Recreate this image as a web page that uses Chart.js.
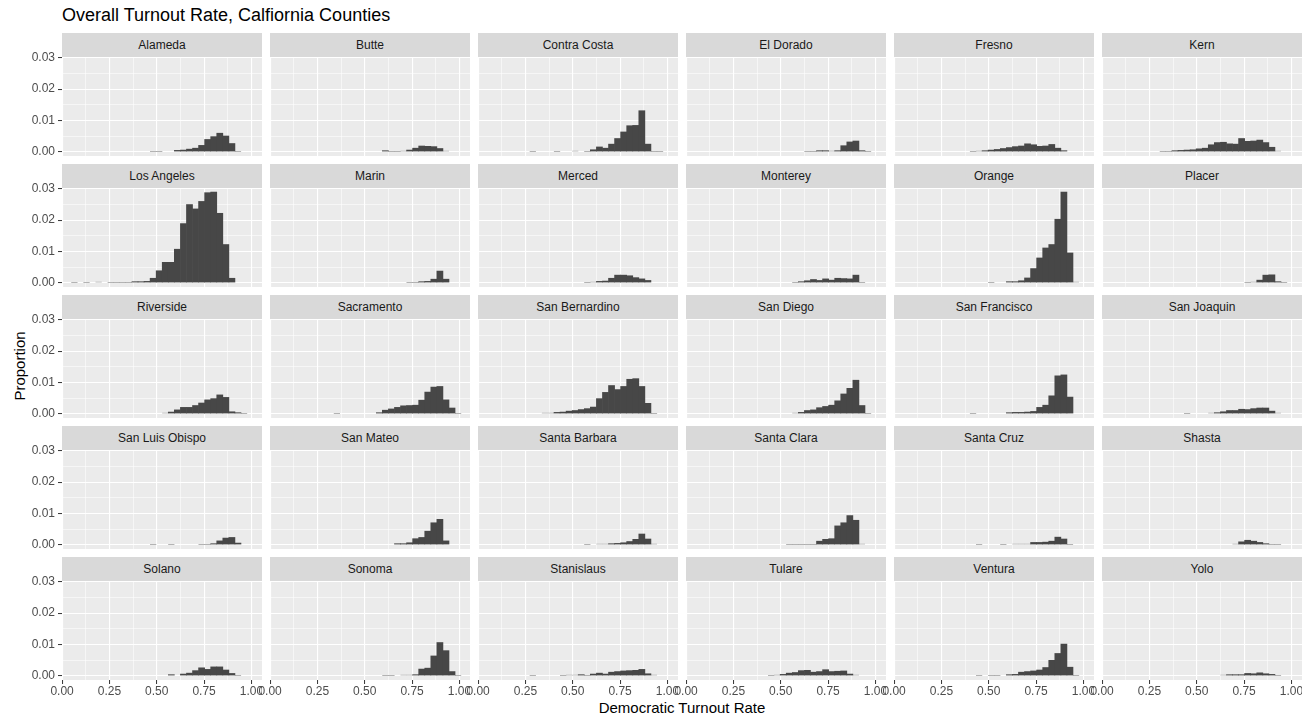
<!DOCTYPE html>
<html>
<head>
<meta charset="utf-8">
<script src="https://cdn.jsdelivr.net/npm/chart.js@4.4.1/dist/chart.umd.min.js"></script>
<style>
  html, body { margin: 0; padding: 0; background: #ffffff; }
  body { width: 1314px; height: 714px; position: relative; overflow: hidden;
         font-family: "Liberation Sans", Arial, Helvetica, sans-serif; }
  .strip { position: absolute; width: 200px; height: 24px; line-height: 24px;
           background: #D9D9D9; color: #1A1A1A; font-size: 12px; text-align: center; white-space: nowrap; }
  canvas { position: absolute; }
  #title { position: absolute; left: 62px; top: 5px; font-size: 18px; line-height: 20px; color: #000; white-space: nowrap; }
  #xtitle { position: absolute; left: 62px; width: 1240px; top: 699px; font-size: 15px; line-height: 17px; text-align: center; color: #000; }
  #ytitle { position: absolute; left: 19px; top: 366px; font-size: 15px; line-height: 17px; color: #000; white-space: nowrap;
            transform: translate(-50%, -50%) rotate(-90deg); }
</style>
</head>
<body>
<div id="title">Overall Turnout Rate, Calfiornia Counties</div>
<div id="ytitle">Proportion</div>
<div id="xtitle">Democratic Turnout Rate</div>
<script>
// Histogram bin centres (bin width 0.032), shared by every county panel
const binCenters = [0.065, 0.097, 0.129, 0.161, 0.193, 0.225, 0.257, 0.289, 0.321, 0.353,
                    0.385, 0.417, 0.449, 0.481, 0.513, 0.545, 0.577, 0.609, 0.641, 0.673,
                    0.705, 0.737, 0.769, 0.801, 0.833, 0.865, 0.897, 0.929, 0.961, 0.993];

const counties = ['Alameda', 'Butte', 'Contra Costa', 'El Dorado', 'Fresno', 'Kern',
                  'Los Angeles', 'Marin', 'Merced', 'Monterey', 'Orange', 'Placer',
                  'Riverside', 'Sacramento', 'San Bernardino', 'San Diego', 'San Francisco', 'San Joaquin',
                  'San Luis Obispo', 'San Mateo', 'Santa Barbara', 'Santa Clara', 'Santa Cruz', 'Shasta',
                  'Solano', 'Sonoma', 'Stanislaus', 'Tulare', 'Ventura', 'Yolo'];

// Proportion of all precincts falling in each bin, one array per county
const alameda       = [0,0,0,0,0,0,0,0,0,0, 0,0,0,0.0001,0.0001,0,0,0.0004,0.0005,0.0008, 0.0011,0.0020,0.0039,0.0048,0.0059,0.0050,0.0026,0.0001,0,0];
const butte         = [0,0,0,0,0,0,0,0,0,0, 0,0,0,0,0,0,0,0.0003,0.0001,0.0001, 0.0002,0.0005,0.0011,0.0018,0.0017,0.0016,0.0010,0.0002,0,0];
const contraCosta   = [0,0,0,0,0,0,0,0.0001,0,0, 0,0.0001,0,0,0.0002,0,0.0001,0.0006,0.0015,0.0011, 0.0024,0.0042,0.0063,0.0083,0.0084,0.0131,0.0024,0.0001,0.0001,0];
const elDorado      = [0,0,0,0,0,0,0,0,0,0, 0,0,0,0,0,0,0,0,0.0001,0.0001, 0.0003,0.0003,0.0002,0.0003,0.0019,0.0031,0.0034,0.0003,0.0001,0];
const fresno        = [0,0,0,0,0,0,0,0,0,0, 0,0.0001,0.0002,0.0003,0.0005,0.0007,0.0010,0.0013,0.0016,0.0018, 0.0025,0.0022,0.0017,0.0018,0.0023,0.0011,0.0003,0,0,0];
const kern          = [0,0,0,0,0,0,0,0,0.0001,0.0001, 0.0003,0.0004,0.0005,0.0006,0.0009,0.0011,0.0022,0.0029,0.0030,0.0025, 0.0024,0.0042,0.0033,0.0034,0.0037,0.0029,0.0014,0.0002,0,0];
const losAngeles    = [0.0001,0,0.0001,0,0.0002,0,0.0001,0.0001,0.0001,0.0001, 0.0003,0.0003,0.0004,0.0014,0.0038,0.0065,0.0065,0.0107,0.0189,0.0250, 0.0236,0.0260,0.0288,0.0290,0.0222,0.0122,0.0014,0,0,0];
const marin         = [0,0,0,0,0,0,0,0,0,0, 0,0,0,0,0,0,0,0,0,0, 0,0.0001,0.0001,0.0003,0.0004,0.0011,0.0037,0.0011,0,0];
const merced        = [0,0,0,0,0,0,0,0,0,0, 0,0,0,0,0,0,0.0001,0.0002,0.0004,0.0005, 0.0014,0.0024,0.0024,0.0022,0.0016,0.0012,0.0007,0,0,0];
const monterey      = [0,0,0,0,0,0,0,0,0,0, 0,0,0,0,0,0,0.0001,0.0003,0.0006,0.0010, 0.0007,0.0012,0.0008,0.0014,0.0013,0.0012,0.0024,0.0001,0,0];
const orange        = [0,0,0,0,0,0,0,0,0,0, 0,0,0,0,0.0001,0,0,0.0003,0.0003,0.0006, 0.0015,0.0045,0.0079,0.0111,0.0122,0.0203,0.0290,0.0095,0.0002,0];
const placer        = [0,0,0,0,0,0,0,0,0,0, 0,0,0,0,0,0,0,0,0,0, 0,0,0.0001,0.0002,0.0008,0.0024,0.0025,0.0003,0.0001,0];
const riverside     = [0,0,0,0,0,0,0,0,0,0, 0,0,0,0,0,0.0002,0.0005,0.0012,0.0020,0.0020, 0.0026,0.0034,0.0044,0.0048,0.0060,0.0052,0.0006,0.0003,0.0001,0];
const sacramento    = [0,0,0,0,0,0,0,0,0,0.0001, 0,0,0,0,0,0,0.0003,0.0011,0.0015,0.0020, 0.0025,0.0026,0.0027,0.0043,0.0069,0.0085,0.0087,0.0044,0.0018,0.0001];
const sanBernardino = [0,0,0,0,0,0,0,0,0,0.0002, 0.0002,0.0004,0.0005,0.0008,0.0010,0.0013,0.0016,0.0021,0.0048,0.0068, 0.0090,0.0077,0.0087,0.0110,0.0112,0.0087,0.0033,0.0001,0,0];
const sanDiego      = [0,0,0,0,0,0,0,0,0,0, 0,0,0,0,0,0,0.0002,0.0004,0.0010,0.0012, 0.0019,0.0023,0.0027,0.0041,0.0063,0.0081,0.0107,0.0026,0.0001,0];
const sanFrancisco  = [0,0,0,0,0,0,0,0,0,0, 0,0.0001,0,0,0,0,0,0.0003,0.0004,0.0004, 0.0005,0.0007,0.0020,0.0027,0.0057,0.0121,0.0124,0.0053,0,0];
const sanJoaquin    = [0,0,0,0,0,0,0,0,0,0, 0,0,0.0001,0,0,0,0.0002,0.0003,0.0006,0.0010, 0.0010,0.0014,0.0013,0.0016,0.0018,0.0018,0.0008,0.0002,0,0];
const sanLuisObispo = [0,0,0,0,0,0,0,0,0,0, 0,0,0,0.0001,0,0,0.0001,0,0,0, 0,0.0001,0.0001,0.0003,0.0012,0.0021,0.0023,0.0005,0,0];
const sanMateo      = [0,0,0,0,0,0,0,0,0,0, 0,0,0,0,0,0,0,0,0,0.0003, 0.0003,0.0006,0.0019,0.0023,0.0043,0.0070,0.0081,0.0012,0,0];
const santaBarbara  = [0,0,0,0,0,0,0,0,0,0, 0,0,0,0,0,0,0.0001,0,0.0002,0.0002, 0.0003,0.0004,0.0006,0.0010,0.0017,0.0034,0.0018,0.0002,0,0];
const santaClara    = [0,0,0,0,0,0,0,0,0,0, 0,0,0,0,0,0.0001,0.0001,0.0001,0.0001,0.0001, 0.0011,0.0017,0.0019,0.0060,0.0070,0.0093,0.0078,0.0002,0,0];
const santaCruz     = [0,0,0,0,0,0,0,0,0,0, 0,0,0.0001,0,0,0,0.0001,0,0.0002,0.0002, 0.0002,0.0007,0.0007,0.0008,0.0011,0.0024,0.0018,0.0001,0,0];
const shasta        = [0,0,0,0,0,0,0,0,0,0, 0,0,0,0,0,0,0,0,0,0, 0.0002,0.0009,0.0014,0.0011,0.0007,0.0003,0.0001,0.0001,0,0];
const solano        = [0,0,0,0,0,0,0,0,0,0, 0,0,0,0,0,0,0.0003,0,0.0005,0.0008, 0.0016,0.0025,0.0020,0.0028,0.0028,0.0018,0.0007,0.0001,0,0];
const sonoma        = [0,0,0,0,0,0,0,0,0,0, 0,0,0,0,0,0,0,0.0001,0.0001,0, 0.0002,0.0002,0.0003,0.0021,0.0024,0.0063,0.0106,0.0080,0.0013,0.0001];
const stanislaus    = [0,0,0,0,0,0,0,0.0001,0,0, 0,0,0.0001,0.0002,0.0002,0.0003,0.0001,0.0005,0.0008,0.0005, 0.0011,0.0013,0.0015,0.0016,0.0017,0.0020,0.0006,0.0002,0,0];
const tulare        = [0,0,0,0,0,0,0,0,0,0, 0,0,0.0001,0.0002,0.0004,0.0008,0.0010,0.0016,0.0017,0.0011, 0.0013,0.0019,0.0013,0.0014,0.0015,0.0005,0.0002,0,0,0];
const ventura       = [0,0,0,0,0,0,0,0,0,0, 0,0,0.0001,0,0.0001,0.0001,0,0.0003,0.0004,0.0011, 0.0013,0.0015,0.0018,0.0026,0.0049,0.0071,0.0101,0.0027,0.0001,0];
const yolo          = [0,0,0,0,0,0,0,0,0,0, 0,0,0,0,0,0,0,0,0.0002,0.0003, 0.0003,0.0003,0.0007,0.0006,0.0009,0.0006,0.0004,0.0001,0,0];

const countyValues = [alameda, butte, contraCosta, elDorado, fresno, kern,
                      losAngeles, marin, merced, monterey, orange, placer,
                      riverside, sacramento, sanBernardino, sanDiego, sanFrancisco, sanJoaquin,
                      sanLuisObispo, sanMateo, santaBarbara, santaClara, santaCruz, shasta,
                      solano, sonoma, stanislaus, tulare, ventura, yolo];

// Axis breaks: even positions are labelled major breaks, odd positions are minor grid lines
const xTickValues = [0, 0.125, 0.25, 0.375, 0.5, 0.625, 0.75, 0.875, 1];
const yTickValues = [0, 0.005, 0.01, 0.015, 0.02, 0.025, 0.03];

Chart.defaults.font.family = "'Liberation Sans', Arial, Helvetica, sans-serif";
Chart.defaults.font.size = 12;
Chart.defaults.color = '#4D4D4D';

// Grey panel background behind the grid
const panelBackground = {
  id: 'panelBackground',
  beforeDraw(chart) {
    const { ctx, chartArea: a } = chart;
    ctx.save();
    ctx.fillStyle = '#EBEBEB';
    ctx.fillRect(a.left, a.top, a.right - a.left, a.bottom - a.top);
    ctx.restore();
  }
};

const NCOL = 6, PANEL_W = 200, PANEL_H = 99, COL_STEP = 208, ROW_STEP = 131;
const AXIS_W = 62, TOP_PAD = 8, X_AXIS_H = 26, STRIP_H = 24;

const isMajor = (ctx) => ctx.index % 2 === 0;

counties.forEach((name, i) => {
  const col = i % NCOL, row = Math.floor(i / NCOL);
  const lastRow = row === Math.floor((counties.length - 1) / NCOL);
  const firstCol = col === 0;
  const panelLeft = 62 + COL_STEP * col;
  const panelTop = 57 + ROW_STEP * row;

  const strip = document.createElement('div');
  strip.className = 'strip';
  strip.style.left = panelLeft + 'px';
  strip.style.top = (panelTop - STRIP_H) + 'px';
  strip.textContent = name;
  document.body.appendChild(strip);

  const w = AXIS_W + PANEL_W;
  const h = TOP_PAD + PANEL_H + (lastRow ? X_AXIS_H : 0);
  const cv = document.createElement('canvas');
  cv.width = w; cv.height = h;
  cv.style.width = w + 'px'; cv.style.height = h + 'px';
  cv.style.left = (panelLeft - AXIS_W) + 'px';
  cv.style.top = (panelTop - TOP_PAD) + 'px';
  document.body.appendChild(cv);

  const values = countyValues[i];
  const points = binCenters.map((x, k) => ({ x: x, y: values[k] > 0 ? values[k] : null }));

  new Chart(cv, {
    type: 'bar',
    data: {
      datasets: [{
        data: points,
        backgroundColor: '#474747',
        borderWidth: 0,
        barPercentage: 1,
        categoryPercentage: 1,
        // near-empty bins stay as faint hairlines; full bars overlap slightly to hide seams
        inflateAmount: (ctx) => (ctx.raw && ctx.raw.y !== null && ctx.raw.y < 0.0003) ? 0.1 : 0.33
      }]
    },
    options: {
      responsive: false,
      animation: false,
      devicePixelRatio: 1,
      events: [],
      layout: { padding: { top: TOP_PAD, left: 0, right: 0, bottom: 0 } },
      plugins: { legend: { display: false }, tooltip: { enabled: false } },
      scales: {
        x: {
          type: 'linear',
          min: -0.0005,
          max: 1.056,
          offset: false,
          afterBuildTicks: (s) => { s.ticks = xTickValues.map(v => ({ value: v })); },
          afterFit: (s) => { s.height = lastRow ? X_AXIS_H : 0; s.paddingLeft = 0; s.paddingRight = 0; },
          border: { display: false },
          grid: {
            offset: false,
            color: '#FFFFFF',
            lineWidth: (ctx) => isMajor(ctx) ? 1.1 : 0.55,
            drawTicks: lastRow,
            tickLength: 4,
            tickWidth: 1,
            tickColor: (ctx) => isMajor(ctx) ? '#333333' : 'rgba(0,0,0,0)'
          },
          ticks: {
            display: lastRow,
            autoSkip: false,
            maxRotation: 0,
            padding: 0,
            color: '#4D4D4D',
            font: { size: 12 },
            callback: (v, idx) => idx % 2 === 0 ? v.toFixed(2) : ''
          }
        },
        y: {
          type: 'linear',
          min: -0.0014,
          max: 0.0303,
          afterBuildTicks: (s) => { s.ticks = yTickValues.map(v => ({ value: v })); },
          afterFit: (s) => { s.width = AXIS_W; s.paddingTop = 0; s.paddingBottom = 0; },
          border: { display: false },
          grid: {
            color: '#FFFFFF',
            lineWidth: (ctx) => isMajor(ctx) ? 1.1 : 0.55,
            drawTicks: firstCol,
            tickLength: 4,
            tickWidth: 1,
            tickColor: (ctx) => isMajor(ctx) ? '#333333' : 'rgba(0,0,0,0)'
          },
          ticks: {
            display: firstCol,
            autoSkip: false,
            padding: 3,
            color: '#4D4D4D',
            font: { size: 12 },
            callback: (v, idx) => idx % 2 === 0 ? v.toFixed(2) : ''
          }
        }
      }
    },
    plugins: [panelBackground]
  });
});
</script>
</body>
</html>
